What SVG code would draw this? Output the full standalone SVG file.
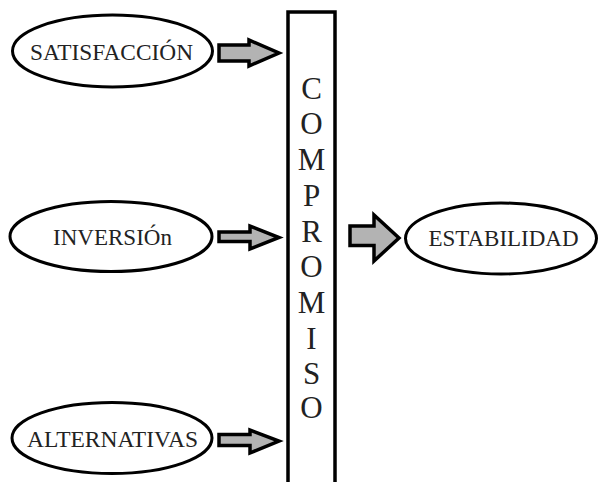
<svg xmlns="http://www.w3.org/2000/svg" width="598" height="482" viewBox="0 0 598 482">
<style>
.node ellipse{fill:#fff;stroke:#000;stroke-width:3}
.lbl{font-family:'Liberation Serif','DejaVu Serif',serif;font-size:23px;fill:#222;text-anchor:middle}
.big{font-family:'Liberation Serif','DejaVu Serif',serif;font-size:31px;fill:#222;text-anchor:middle}
.arr{fill:#b3b3b3;stroke:#000;stroke-width:3.5;stroke-linejoin:miter}
</style>
<rect width="598" height="482" fill="#fff"/>
<g id="compromiso">
<rect x="288" y="12" width="47" height="480" fill="#fff" stroke="#000" stroke-width="3.5"/>
<text class="big" x="311.5" y="98.5">C</text>
<text class="big" x="311.5" y="134">O</text>
<text class="big" x="311.5" y="170">M</text>
<text class="big" x="311.5" y="206">P</text>
<text class="big" x="311.5" y="242">R</text>
<text class="big" x="311.5" y="277">O</text>
<text class="big" x="311.5" y="313">M</text>
<text class="big" x="311.5" y="349">I</text>
<text class="big" x="311.5" y="383.5">S</text>
<text class="big" x="311.5" y="418">O</text>
</g>
<g id="satisfaccion" class="node">
<ellipse cx="112.5" cy="51" rx="100" ry="36"/>
<text class="lbl" x="111.5" y="59.5" textLength="163" lengthAdjust="spacingAndGlyphs">SATISFACCIÓN</text>
</g>
<g id="inversion" class="node">
<ellipse cx="111" cy="236.5" rx="101" ry="35"/>
<text class="lbl" x="112.5" y="245">INVERSIÓn</text>
</g>
<g id="alternativas" class="node">
<ellipse cx="112" cy="438" rx="100" ry="35.5"/>
<text class="lbl" x="112.5" y="447" textLength="171" lengthAdjust="spacingAndGlyphs">ALTERNATIVAS</text>
</g>
<g id="estabilidad" class="node">
<ellipse cx="501" cy="238.5" rx="95.5" ry="35.5"/>
<text class="lbl" x="503.5" y="245.5">ESTABILIDAD</text>
</g>
<g id="connectors">
<path class="arr" d="M219,45 L249,45 L249,40 L279,53 L249,66 L249,61 L219,61 Z"/>
<path class="arr" d="M219,232 L250,232 L250,226 L279,237.5 L250,249 L250,241.5 L219,241.5 Z"/>
<path class="arr" d="M219,434.5 L250,434.5 L250,430 L279,441 L250,453 L250,445.5 L219,445.5 Z"/>
<path class="arr" d="M350,226 L374,226 L374,215 L399,238 L374,261 L374,245.5 L350,245.5 Z"/>
</g>
</svg>
